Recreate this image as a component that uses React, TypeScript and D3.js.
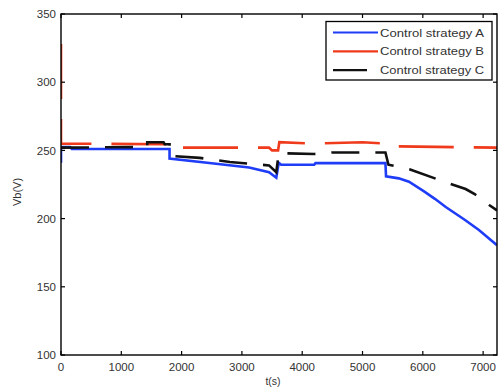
import React from "react";
import * as d3 from "d3";

const xTicks = [0, 1000, 2000, 3000, 4000, 5000, 6000, 7000];
const yTicks = [100, 150, 200, 250, 300, 350];
const legendLabels = ["Control strategy A", "Control strategy B", "Control strategy C"];

// Control strategy A (blue)
const seriesA: [number, number][] = [
  [0, 241], [0, 252.5], [150, 252.5], [180, 251], [1800, 251], [1800, 244],
  [2460, 240.8], [3120, 237.5], [3450, 234], [3570, 230], [3610, 241],
  [3650, 239.5], [4200, 239.5], [4220, 240.7], [5380, 240.7], [5390, 231],
  [5600, 229.5], [5770, 227], [6020, 220], [6200, 214.5], [6380, 208.5], [6700, 199],
  [6930, 191.6], [7230, 180.5],
];
// Control strategy B (red)
const seriesB: [number, number][] = [
  [0, 328], [0, 255], [1800, 254.5], [1800, 252], [3450, 252], [3500, 250],
  [3600, 250], [3620, 256], [4200, 255], [5000, 256], [5400, 255],
  [5450, 253], [7230, 252],
];
// Control strategy C (black)
const seriesC: [number, number][] = [
  [0, 252], [1430, 252.5], [1430, 256], [1700, 256], [1720, 254.5], [1800, 254.5],
  [1800, 246], [2300, 244.5], [2800, 241.5], [3450, 239], [3570, 234],
  [3610, 248], [4200, 247.4], [4500, 248.5], [5380, 248.5], [5430, 239.5],
  [5790, 236], [6320, 227.6], [6710, 221.7], [6860, 218], [7100, 210], [7230, 206],
];

const colors = ["#1f3df7", "#f03a1c", "#111111"];
const dashes = ["none", "55,20", "28,16"];

export default function App() {
  const W = 499, H = 389;
  const x = d3.scaleLinear().domain([0, 7230]).range([61, 497]);
  const y = d3.scaleLinear().domain([100, 350]).range([355, 14]);
  const line = d3.line<[number, number]>().x(d => x(d[0])).y(d => y(d[1]));
  const series = [seriesA, seriesB, seriesC];
  const font = "Arial, 'Liberation Sans', sans-serif";
  const tickColor = "#333";
  return (
    <svg width={W} height={H} style={{ position: "absolute", left: 0, top: 0, background: "#fff" }}
      fontFamily={font}>
      <defs>
        <clipPath id="plot">
          <rect x={61} y={14} width={436} height={341} />
        </clipPath>
      </defs>
      <g clipPath="url(#plot)">
        {series.map((s, i) => (
          <path key={i} d={line(s) || ""} fill="none" stroke={colors[i]} strokeWidth={2.6}
            strokeDasharray={dashes[i]} strokeLinejoin="miter" />
        ))}
      </g>
      {/* frame */}
      <rect x={61} y={14} width={436} height={341} fill="none" stroke="#000" strokeWidth={1.4} />
      {/* ticks */}
      {xTicks.map(t => (
        <g key={"x" + t}>
          <line x1={x(t)} x2={x(t)} y1={355} y2={351} stroke="#000" strokeWidth={1.2} />
          <line x1={x(t)} x2={x(t)} y1={14} y2={18} stroke="#000" strokeWidth={1.2} />
          <text x={x(t)} y={371} fontSize={11.5} textAnchor="middle" fill={tickColor}>{t}</text>
        </g>
      ))}
      {yTicks.map(t => (
        <g key={"y" + t}>
          <line x1={61} x2={65} y1={y(t)} y2={y(t)} stroke="#000" strokeWidth={1.2} />
          <line x1={497} x2={493} y1={y(t)} y2={y(t)} stroke="#000" strokeWidth={1.2} />
          <text x={56} y={y(t) + 4.2} fontSize={11.5} textAnchor="end" fill={tickColor}>{t}</text>
        </g>
      ))}
      <text x={273} y={385} fontSize={10.5} textAnchor="middle" fill={tickColor}>t(s)</text>
      <text transform={`translate(21,192) rotate(-90)`} fontSize={11} textAnchor="middle" fill={tickColor}>Vb(V)</text>
      {/* legend */}
      <rect x={326} y={21.5} width={166} height={58.5} fill="#fff" stroke="#000" strokeWidth={1.3} />
      {legendLabels.map((lab, i) => {
        const ly = 32.5 + i * 18.8;
        return (
          <g key={lab}>
            <line x1={333} x2={i === 2 ? 367 : 378} y1={ly} y2={ly} stroke={colors[i]} strokeWidth={2.2} />
            <text x={380} y={ly + 4} fontSize={11.5} fill={tickColor}
              textLength={104} lengthAdjust="spacingAndGlyphs">{lab}</text>
          </g>
        );
      })}
    </svg>
  );
}
